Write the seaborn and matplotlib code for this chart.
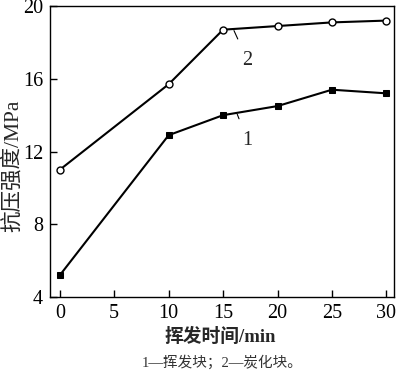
import numpy as np
import pandas as pd
import matplotlib
matplotlib.use("Agg")
import matplotlib.pyplot as plt
import seaborn as sns

# -----------------------------
# Data
# -----------------------------
time_min = [0, 10, 15, 20, 25, 30]
strength_volatile = [5.2, 12.9, 14.0, 14.5, 15.4, 15.2]   # 1 - 挥发块
strength_carbon = [11.0, 15.7, 18.7, 18.9, 19.1, 19.2]    # 2 - 炭化块
x_ticks = [0, 5, 10, 15, 20, 25, 30]
y_ticks = [4, 8, 12, 16, 20]

df = pd.DataFrame({
    "time": time_min * 2,
    "strength": strength_volatile + strength_carbon,
    "curve": ["1"] * len(time_min) + ["2"] * len(time_min),
})

sns.set_style("ticks")
plt.rcParams["font.family"] = ["Liberation Serif", "Noto Sans CJK SC"]
plt.rcParams["axes.linewidth"] = 1.0

fig = plt.figure(figsize=(4.0, 3.77), dpi=100)
ax = fig.add_axes([0.125, 0.212, 0.86, 0.772])

# curve 1: filled squares, curve 2: open circles
sns.lineplot(data=df[df["curve"] == "1"], x="time", y="strength", ax=ax,
             color="black", linewidth=1.5, marker="s", markersize=5,
             markerfacecolor="black", markeredgecolor="black")
sns.lineplot(data=df[df["curve"] == "2"], x="time", y="strength", ax=ax,
             color="black", linewidth=1.5, marker="o", markersize=5,
             markerfacecolor="white", markeredgecolor="black",
             markeredgewidth=1.0)

ax.set_xlim(-0.9, 30.7)
ax.set_ylim(4, 20)
ax.set_xticks(x_ticks)
ax.set_yticks(y_ticks)
ax.tick_params(direction="in", length=5, width=1, labelsize=14.5,
               colors="black", pad=5)
for s in ax.spines.values():
    s.set_visible(True)
    s.set_color("black")

ax.set_xlabel("挥发时间/min", fontsize=13.5, fontweight="bold")
ax.set_ylabel("抗压强度/MPa", fontsize=15.5)
ax.xaxis.set_label_coords(0.494, -0.105)
ax.yaxis.set_label_coords(-0.077, 0.45)

# curve labels with leader lines
ax.annotate("2", xy=(16.0, 18.65), xytext=(17.25, 17.0), fontsize=14.5,
            ha="center", va="center",
            arrowprops=dict(arrowstyle="-", color="black", lw=0.8,
                            shrinkA=7, shrinkB=0))
ax.annotate("1", xy=(16.3, 14.05), xytext=(17.25, 12.6), fontsize=14.5,
            ha="center", va="center",
            arrowprops=dict(arrowstyle="-", color="black", lw=0.8,
                            shrinkA=7, shrinkB=0))

fig.text(0.555, 0.04, "1—挥发块；2—炭化块。", ha="center", va="center",
         fontsize=10.5, color="#333333")

fig.savefig("out.png", dpi=100)
